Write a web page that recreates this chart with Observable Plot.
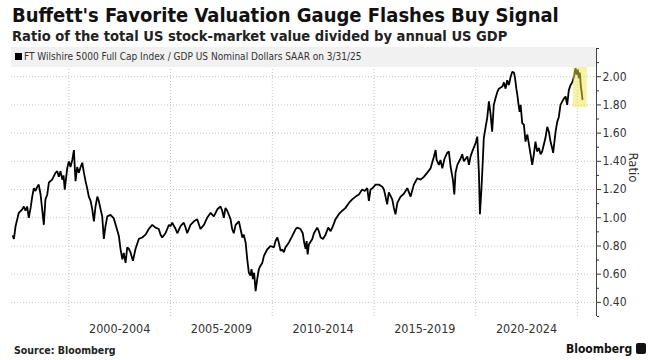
<!DOCTYPE html>
<html><head><meta charset="utf-8">
<script src="https://cdn.jsdelivr.net/npm/d3@7"></script>
<script src="https://cdn.jsdelivr.net/npm/@observablehq/plot@0.6"></script>
<style>
body{margin:0;background:#fff;width:649px;height:360px;position:relative;overflow:hidden;font-family:"DejaVu Sans Condensed","DejaVu Sans",sans-serif;}
#title{position:absolute;left:12px;top:4px;font-weight:bold;font-size:20px;line-height:22px;color:#111;white-space:nowrap;}
#subtitle{position:absolute;left:12px;top:27px;font-weight:bold;font-size:14.6px;line-height:17px;color:#222;white-space:nowrap;}
#chart{position:absolute;left:0;top:47px;}
#legend{position:absolute;left:11px;top:47px;width:585px;height:20px;background:#f1f1f1;font-size:10px;line-height:20px;color:#333;white-space:nowrap;}
#legend .sw{display:inline-block;width:7px;height:7px;background:#000;margin:0 2px 0 4px;vertical-align:0px;}
#source{position:absolute;left:14px;top:344px;font-weight:bold;font-size:10.5px;color:#222;}
#brand{position:absolute;left:566px;top:342px;font-weight:bold;font-size:12px;color:#111;white-space:nowrap;}
#brand .ic{display:inline-block;width:10px;height:11px;background:#111;border-radius:2px;margin-left:4px;vertical-align:-1px;}
</style></head>
<body>
<div id="title">Buffett's Favorite Valuation Gauge Flashes Buy Signal</div>
<div id="subtitle">Ratio of the total US stock-market value divided by annual US GDP</div>
<div id="chart"></div>
<div id="legend"><span class="sw"></span>FT Wilshire 5000 Full Cap Index / GDP US Nominal Dollars SAAR on 3/31/25</div>
<div id="source">Source: Bloomberg</div>
<div id="brand">Bloomberg<span class="ic"></span></div>
<script>
// [decimal year, ratio]
const series = [[1997.25,0.87],[1997.30,0.85],[1997.38,0.94],[1997.54,1.035],[1997.71,1.06],[1997.79,1.08],[1997.87,1.05],[1997.95,1.08],[1998.03,1.00],[1998.12,1.07],[1998.20,1.15],[1998.28,1.21],[1998.36,1.19],[1998.45,1.22],[1998.52,1.235],[1998.61,1.165],[1998.69,1.06],[1998.77,0.95],[1998.85,1.13],[1998.94,1.165],[1999.02,1.25],[1999.18,1.27],[1999.35,1.32],[1999.43,1.33],[1999.51,1.29],[1999.59,1.33],[1999.68,1.27],[1999.74,1.30],[1999.80,1.20],[1999.92,1.35],[2000.00,1.40],[2000.08,1.36],[2000.17,1.41],[2000.25,1.48],[2000.28,1.39],[2000.33,1.26],[2000.41,1.36],[2000.49,1.32],[2000.58,1.36],[2000.66,1.39],[2000.74,1.32],[2000.82,1.26],[2000.90,1.21],[2000.98,1.15],[2001.07,1.12],[2001.15,1.06],[2001.23,0.975],[2001.31,1.08],[2001.40,1.15],[2001.47,1.12],[2001.56,1.06],[2001.64,1.01],[2001.72,0.85],[2001.80,0.94],[2001.89,1.01],[2002.05,1.02],[2002.21,0.995],[2002.30,0.95],[2002.46,0.87],[2002.54,0.78],[2002.63,0.705],[2002.70,0.75],[2002.79,0.68],[2002.87,0.79],[2002.95,0.78],[2003.03,0.755],[2003.15,0.695],[2003.28,0.78],[2003.44,0.85],[2003.61,0.86],[2003.77,0.88],[2003.93,0.92],[2004.10,0.95],[2004.26,0.93],[2004.42,0.92],[2004.51,0.88],[2004.59,0.86],[2004.75,0.89],[2004.92,0.95],[2005.00,0.94],[2005.08,0.965],[2005.25,0.92],[2005.33,0.89],[2005.49,0.94],[2005.65,0.965],[2005.74,0.93],[2005.82,0.89],[2005.98,0.95],[2006.15,0.975],[2006.31,0.99],[2006.47,0.92],[2006.64,0.95],[2006.80,1.00],[2006.97,1.035],[2007.13,1.01],[2007.30,1.06],[2007.46,1.08],[2007.54,1.05],[2007.62,1.00],[2007.70,1.07],[2007.79,1.05],[2007.95,0.99],[2008.03,0.92],[2008.11,0.89],[2008.20,0.95],[2008.36,0.975],[2008.44,0.92],[2008.53,0.86],[2008.60,0.88],[2008.69,0.825],[2008.77,0.705],[2008.85,0.61],[2008.93,0.59],[2008.98,0.635],[2009.05,0.565],[2009.11,0.61],[2009.18,0.48],[2009.26,0.565],[2009.34,0.635],[2009.42,0.66],[2009.51,0.68],[2009.59,0.73],[2009.75,0.775],[2009.92,0.80],[2010.08,0.79],[2010.16,0.835],[2010.25,0.86],[2010.32,0.825],[2010.41,0.765],[2010.49,0.775],[2010.57,0.755],[2010.65,0.79],[2010.82,0.825],[2010.98,0.87],[2011.15,0.92],[2011.23,0.93],[2011.39,0.92],[2011.50,0.89],[2011.57,0.825],[2011.64,0.78],[2011.69,0.835],[2011.74,0.74],[2011.80,0.81],[2011.97,0.85],[2012.05,0.89],[2012.21,0.93],[2012.29,0.905],[2012.38,0.86],[2012.49,0.85],[2012.62,0.88],[2012.75,0.93],[2012.87,0.905],[2012.98,0.94],[2013.11,0.99],[2013.27,1.025],[2013.44,1.05],[2013.60,1.07],[2013.77,1.105],[2013.93,1.13],[2014.10,1.15],[2014.26,1.165],[2014.42,1.20],[2014.55,1.19],[2014.67,1.21],[2014.75,1.12],[2014.83,1.20],[2014.93,1.21],[2015.08,1.235],[2015.24,1.235],[2015.41,1.22],[2015.49,1.20],[2015.57,1.15],[2015.65,1.095],[2015.73,1.18],[2015.90,1.13],[2015.98,1.07],[2016.06,1.025],[2016.15,1.105],[2016.31,1.15],[2016.47,1.17],[2016.64,1.21],[2016.80,1.15],[2016.96,1.235],[2017.13,1.28],[2017.29,1.27],[2017.45,1.29],[2017.62,1.32],[2017.78,1.35],[2017.95,1.435],[2018.03,1.48],[2018.08,1.41],[2018.19,1.375],[2018.27,1.41],[2018.36,1.35],[2018.47,1.42],[2018.60,1.46],[2018.68,1.47],[2018.77,1.36],[2018.88,1.27],[2018.95,1.165],[2019.01,1.32],[2019.10,1.375],[2019.26,1.42],[2019.34,1.45],[2019.42,1.40],[2019.59,1.435],[2019.67,1.375],[2019.75,1.435],[2019.86,1.48],[2020.00,1.53],[2020.08,1.575],[2020.16,1.32],[2020.21,1.025],[2020.29,1.22],[2020.35,1.40],[2020.40,1.565],[2020.48,1.635],[2020.57,1.71],[2020.65,1.825],[2020.73,1.74],[2020.81,1.61],[2020.89,1.80],[2020.97,1.845],[2021.06,1.89],[2021.14,1.915],[2021.31,1.93],[2021.39,1.96],[2021.47,1.915],[2021.55,1.975],[2021.63,1.94],[2021.72,2.00],[2021.80,2.035],[2021.88,2.03],[2021.93,1.995],[2022.00,1.915],[2022.05,1.87],[2022.10,1.81],[2022.16,1.75],[2022.21,1.80],[2022.29,1.67],[2022.37,1.66],[2022.45,1.54],[2022.54,1.59],[2022.62,1.52],[2022.70,1.45],[2022.78,1.375],[2022.86,1.45],[2022.94,1.54],[2023.02,1.47],[2023.11,1.495],[2023.19,1.45],[2023.27,1.47],[2023.43,1.565],[2023.52,1.645],[2023.60,1.61],[2023.68,1.54],[2023.76,1.495],[2023.81,1.46],[2023.93,1.61],[2024.01,1.68],[2024.09,1.715],[2024.17,1.80],[2024.26,1.825],[2024.34,1.845],[2024.42,1.86],[2024.50,1.80],[2024.58,1.905],[2024.66,1.94],[2024.75,1.96],[2024.83,2.00],[2024.91,2.06],[2024.96,2.015],[2025.02,2.05],[2025.07,1.99],[2025.12,2.03],[2025.17,1.93],[2025.21,1.89],[2025.25,1.84]];

const periodStarts = [2000, 2005, 2010, 2015, 2020];
const periodLabels = ["2000-2004", "2005-2009", "2010-2014", "2015-2019", "2020-2024"];
const gridYears = [2000, 2005, 2010, 2015, 2020, 2025];
const yTicks = [0.4, 0.6, 0.8, 1.0, 1.2, 1.4, 1.6, 1.8, 2.0];
const yMinorTicks = [0.3, 0.5, 0.7, 0.9, 1.1, 1.3, 1.5, 1.7, 1.9, 2.1, 2.2];
const xRange = [1997.18, 2025.94];
const yRange = [0.3, 2.2];
const highlight = [{start: 2024.80, end: 2025.49, low: 1.78, high: 2.13}];
const yLabel = "Ratio";

function toDate(y) {
  const yr = Math.floor(y);
  const a = Date.UTC(yr, 0, 1), b = Date.UTC(yr + 1, 0, 1);
  return new Date(a + (y - yr) * (b - a));
}

const data = series.map(([t, v]) => ({date: toDate(t), value: v}));
const periods = periodStarts.map((s, i) => ({mid: toDate(s + 2.5), label: periodLabels[i]}));
const grids = gridYears.map(toDate);
const xDomain = xRange.map(toDate);
const hl = highlight.map(h => ({x1: toDate(h.start), x2: toDate(h.end), y1: h.low, y2: h.high}));

const grid = {stroke: "#c4c4c4", strokeOpacity: 1, strokeDasharray: "1,2"};
const chart = Plot.plot({
  width: 649,
  height: 295,
  marginLeft: 11,
  marginRight: 53,
  marginTop: 1,
  marginBottom: 26,
  style: {fontFamily: '"DejaVu Sans Condensed","DejaVu Sans",sans-serif', fontSize: "12px", color: "#333", background: "transparent"},
  x: {type: "utc", domain: xDomain, axis: null},
  y: {domain: yRange, axis: null},
  marks: [
    Plot.gridY(yTicks, grid),
    Plot.gridX(grids, grid),
    Plot.line(data, {x: "date", y: "value", stroke: "#000", strokeWidth: 1.8, strokeLinejoin: "miter"}),
    Plot.rect(hl, {x1: "x1", x2: "x2", y1: "y1", y2: "y2", fill: "#efe84a", fillOpacity: 0.5}),
    Plot.ruleX([xDomain[1]], {y1: yRange[0], y2: yRange[1], stroke: "#444", strokeWidth: 1}),
    Plot.axisY(yMinorTicks, {anchor: "right", tickSize: 2, tickFormat: () => "", label: null}),
    Plot.axisY(yTicks, {anchor: "right", tickSize: 4, tickPadding: 2, tickFormat: d3.format(".2f"), label: null}),
    Plot.text(periods, {x: "mid", text: "label", frameAnchor: "bottom", dy: 16.5, fontSize: 12.5, fill: "#333"}),
    Plot.text([yLabel], {frameAnchor: "right", text: d => d, rotate: 90, dx: 37, fontSize: 13, fill: "#333"})
  ]
});
document.getElementById("chart").appendChild(chart);
</script>
</body></html>
